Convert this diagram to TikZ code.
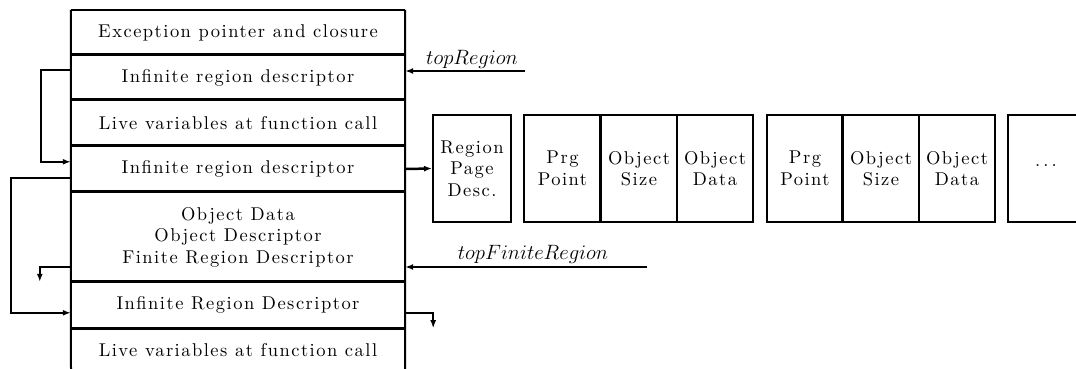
\documentclass[tikz,border=0pt]{standalone}
\usepackage{fontspec}
\setmainfont{lmroman10-regular}[Extension=.otf,ItalicFont=lmroman10-italic,BoldFont=lmroman10-bold,LetterSpace=8]
\usetikzlibrary{arrows.meta,calc}
\begin{document}
\begin{tikzpicture}[x=1pt,y=-1pt,
  every node/.style={font=\fontsize{18.5}{21.5}\selectfont},
  cell/.style={draw=none,minimum width=334pt,inner sep=0pt,align=center},
  frame/.style={line width=2pt},
  divider/.style={line width=3pt},
  arr/.style={line width=2pt,-{Latex[length=8pt,width=6pt]}},
  page/.style={draw,line width=2pt,minimum height=107pt,inner sep=0pt,align=center},
  lbl/.style={inner sep=0pt,font=\fontsize{20}{22}\selectfont}]
\useasboundingbox (0,0) rectangle (1076,369);
% stack cells
\node[cell,minimum height=45pt] (b1) at (238,32.5) {Exception pointer and closure};
\node[cell,minimum height=45pt] (b2) at (238,77.5) {Infinite region descriptor};
\node[cell,minimum height=46pt] (b3) at (238,123) {Live variables at function call};
\node[cell,minimum height=46pt] (b4) at (238,169) {Infinite region descriptor};
\node[cell,minimum height=90pt] (b5) at (238,237) {Object Data\\Object Descriptor\\Finite Region Descriptor};
\node[cell,minimum height=46pt] (b6) at (238,305) {Infinite Region Descriptor};
\node[cell,minimum height=41pt] (b7) at (238,350) {Live variables at function call};
% stack outline
\draw[frame] (b1.north west) -- (71,369);
\draw[frame] (b1.north east) -- (405,369);
\draw[frame] (b1.north west) -- (b1.north east);
\foreach \n in {b2,b3,b4,b5,b6} \draw[divider] (\n.north west) -- (\n.north east);
\draw[divider] (71,328) -- (405,328);
% page boxes
\node[page,minimum width=78pt] (rpd) at (472,168.5) {Region\\Page\\Desc.};
\node[page,minimum width=77pt] (p1) at (562.5,168.5) {Prg\\Point};
\node[page,minimum width=76pt] (s1) at (639,168.5) {Object\\Size};
\node[page,minimum width=76pt] (d1) at (715,168.5) {Object\\Data};
\node[page,minimum width=76pt] (p2) at (805,168.5) {Prg\\Point};
\node[page,minimum width=76pt] (s2) at (881,168.5) {Object\\Size};
\node[page,minimum width=76pt] (d2) at (957,168.5) {Object\\Data};
\draw[line width=3pt] (s1.north west) -- (s1.south west);
\draw[line width=3pt] (s2.north west) -- (s2.south west);
\node[inner sep=0pt] (dots) at (1046,166) {.\,.\,.};
\draw[frame] (1080,115) -- (1008,115) -- (1008,222) -- (1080,222);
% pointers
\coordinate (tr) at (525,71);
\coordinate (tf) at (647,267);
\draw[arr] (tr) -- (b2.east |- tr);
\node[lbl] (trl) at (472,59) {$topRegion$};
\draw[arr] (tf) -- (b5.east |- tf);
\node[lbl] (tfl) at (533,254) {$topFiniteRegion$};
\draw[arr,line width=2.5pt] (b4.east) -- (rpd.west);
% links
\draw[arr] ($(b2.north west)+(0,15)$) -- ++(-30,0) |- ($(b4.north west)+(0,16)$);
\draw[arr] ($(b4.north west)+(0,32)$) -- ++(-60,0) |- ($(b6.north west)+(0,31)$);
\draw[arr] ($(b5.north west)+(0,75)$) -| ($(b6.north west)+(-31,0)$);
\draw[arr] ($(b6.north east)+(0,31)$) -| ($(b6.south east)+(28,0)$);
\end{tikzpicture}
\end{document}
